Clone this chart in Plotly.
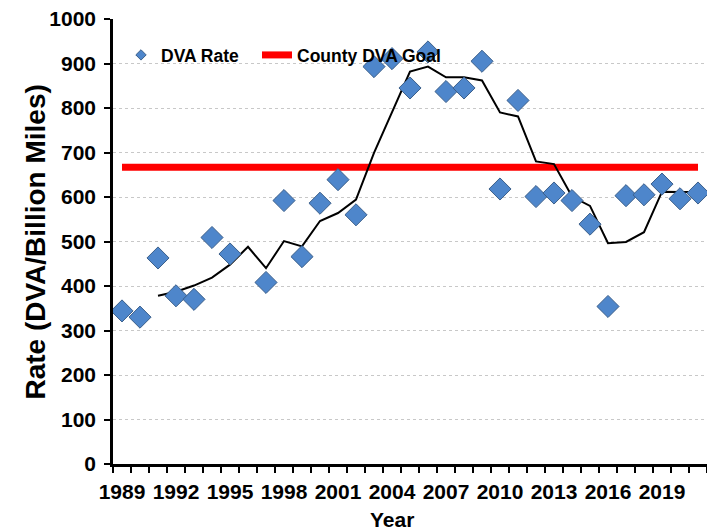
import plotly.graph_objects as go

# ---- data ----
years = list(range(1989, 2022))
dva_rate = [344, 330, 463, 378, 370, 509, 472, None, 408, 592,
            466, 586, 639, 560, 893, 911, 845, 926, 837, 845,
            905, 618, 817, 601, 609, 592, 539, 354, 603, 605,
            629, 596, 609]
moving_avg = [None, None, 378, 387, 401, 419, 448, 488, 440, 501,
              489, 546, 564, 594, 699, 792, 882, 893, 869, 869,
              862, 790, 781, 680, 674, 601, 580, 496, 499, 521,
              612, 611, 611]
goal_value = 667
goal = [goal_value for _ in years]
tick_years = [1989, 1992, 1995, 1998, 2001, 2004, 2007, 2010, 2013, 2016, 2019]
tick_labels = [str(y) for y in tick_years]

FONT = "Arial, 'Liberation Sans', sans-serif"
BLUE = "#4e86cb"
LEGEND_FONT = dict(size=17.5, family=FONT, color="black", weight="bold")

fig = go.Figure()

# County goal line
fig.add_trace(go.Scatter(
    x=years, y=goal, mode="lines", name="County DVA Goal",
    line=dict(color="#ff0000", width=7), showlegend=False, hoverinfo="skip"))

# moving average
fig.add_trace(go.Scatter(
    x=years, y=moving_avg, mode="lines", name="Trend",
    line=dict(color="black", width=2), showlegend=False, connectgaps=False))

# data points
fig.add_trace(go.Scatter(
    x=years, y=dva_rate, mode="markers", name="DVA Rate",
    marker=dict(symbol="diamond", size=17, color=BLUE,
                line=dict(color="#3b5f8a", width=1)),
    showlegend=False, cliponaxis=True))

# legend proxies (no data)
fig.add_trace(go.Scatter(
    x=[None], y=[None], mode="markers", name="DVA Rate", legend="legend",
    marker=dict(symbol="diamond", size=8, color=BLUE,
                line=dict(color="#3b5f8a", width=1))))
fig.add_trace(go.Scatter(
    x=[None], y=[None], mode="lines", name="County DVA Goal", legend="legend2",
    line=dict(color="#ff0000", width=7)))

fig.update_layout(
    width=707, height=531,
    margin=dict(l=113, r=0, t=19, b=67),
    paper_bgcolor="white", plot_bgcolor="white",
    font=dict(family=FONT, color="black"),
    showlegend=True,
    legend=dict(orientation="h", x=8 / 594, xanchor="left", y=0.919, yanchor="middle",
                bgcolor="rgba(0,0,0,0)", font=LEGEND_FONT),
    legend2=dict(orientation="h", x=(257 - 113) / 594, xanchor="left", y=0.919,
                 yanchor="middle", bgcolor="rgba(0,0,0,0)", font=LEGEND_FONT),
    xaxis=dict(
        range=[1988.5, 2021.5], showgrid=False, zeroline=False,
        showline=True, linecolor="black", linewidth=2.5,
        tickmode="array", tickvals=tick_years, ticktext=tick_labels,
        ticks="outside", ticklen=6, tickcolor="rgba(0,0,0,0)",
        ticklabelstandoff=1,
        tickfont=dict(size=21, family=FONT, color="black", weight="bold"),
        minor=dict(tickmode="linear", tick0=1988.5, dtick=1, ticks="outside",
                   ticklen=6, tickwidth=2, tickcolor="black", showgrid=False),
    ),
    yaxis=dict(
        range=[0, 1000], tickmode="linear", tick0=0, dtick=100,
        showgrid=True, gridcolor="#c8c8c8", griddash="dot", gridwidth=1,
        zeroline=False, showline=True, linecolor="black", linewidth=2.5,
        ticks="outside", ticklen=6, tickwidth=2, tickcolor="black",
        ticklabelstandoff=4,
        tickfont=dict(size=21, family=FONT, color="black", weight="bold"),
    ),
    annotations=[
        dict(text="Year", xref="paper", yref="paper", x=(392 - 113) / 594, y=(464 - 519) / 445,
             xanchor="center", yanchor="middle", showarrow=False,
             font=dict(size=21, family=FONT, color="black", weight="bold")),
        dict(text="Rate (DVA/Billion Miles)", xref="paper", yref="paper",
             x=(35 - 113) / 594, y=0.5, textangle=-90,
             xanchor="center", yanchor="middle", showarrow=False,
             font=dict(size=28, family=FONT, color="black", weight="bold")),
    ],
)

fig.write_html("out.html", config={"displayModeBar": False},
               post_script="document.body.style.margin='0';document.body.style.overflow='hidden';")
